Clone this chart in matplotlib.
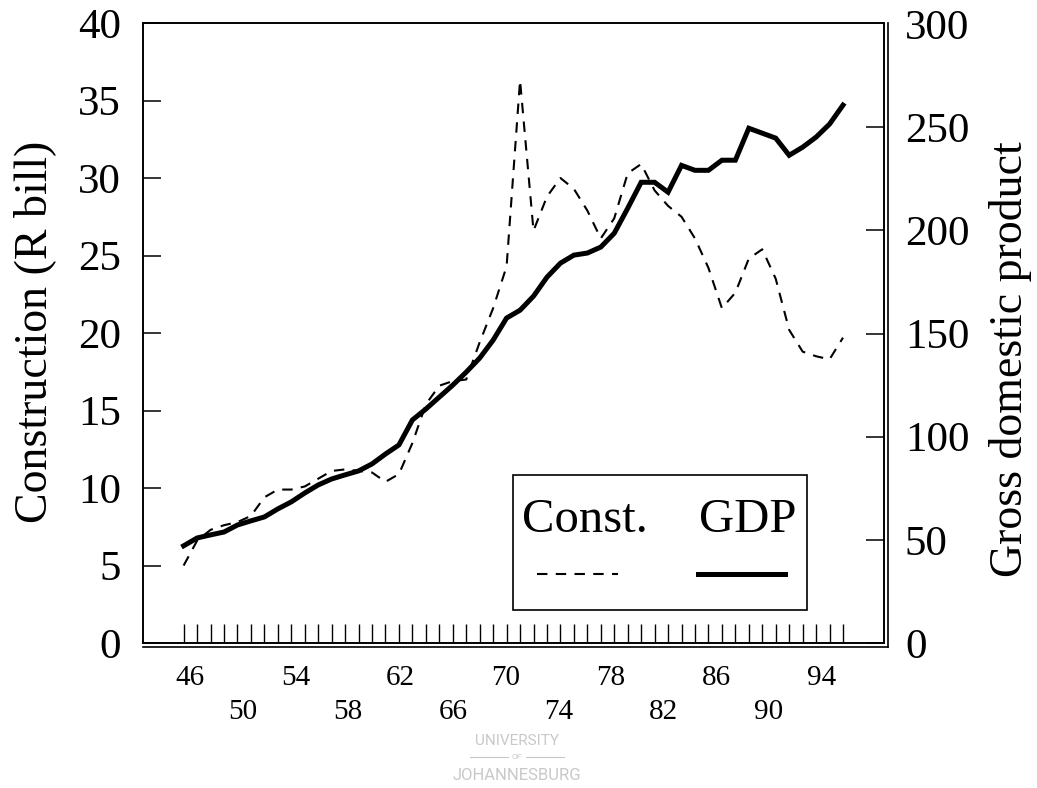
import matplotlib
matplotlib.use("Agg")
import matplotlib.pyplot as plt
import matplotlib.transforms as mtransforms
from matplotlib.patches import Rectangle
from matplotlib.lines import Line2D

plt.rcParams['font.family'] = ['Liberation Serif', 'DejaVu Serif']

# Years 1946-1995
years = list(range(1946, 1996))

# Construction (R bill), left axis
construction = [5.0, 6.6, 7.3, 7.6, 7.8, 8.2, 9.4, 9.9, 9.9, 10.1,
                10.6, 11.1, 11.2, 11.1, 11.0, 10.4, 10.9, 12.9, 15.4, 16.6,
                16.9, 17.0, 19.4, 21.6, 24.3, 36.3, 26.6, 28.8, 30.0, 29.3,
                27.9, 26.1, 27.4, 30.3, 30.9, 29.2, 28.2, 27.5, 26.1, 24.2,
                21.6, 22.6, 24.8, 25.4, 23.5, 20.2, 18.8, 18.5, 18.3, 19.7]

# Gross domestic product, right axis
gdp = [47.1, 50.9, 52.4, 53.8, 57.2, 59.2, 61.1, 65.0, 68.4, 72.7,
       76.6, 79.5, 81.5, 83.4, 86.8, 91.6, 96.0, 108.1, 113.4, 119.2,
       125.0, 131.3, 138.1, 146.8, 157.5, 161.3, 168.1, 177.3, 184.1, 188.0,
       189.0, 191.9, 198.6, 210.7, 223.3, 223.3, 218.5, 231.5, 229.1, 229.1,
       234.0, 234.0, 249.5, 247.1, 244.7, 236.4, 240.3, 245.2, 251.5, 260.7]

left_ticks = [0, 5, 10, 15, 20, 25, 30, 35, 40]
right_ticks = [0, 50, 100, 150, 200, 250, 300]
upper_labels = [1946, 1954, 1962, 1970, 1978, 1986, 1994]
lower_labels = [1950, 1958, 1966, 1974, 1982, 1990]

fig = plt.figure(figsize=(10.37, 7.88), dpi=100)
ax = fig.add_axes([0.1379, 0.184, 0.7146, 0.7868])
ax2 = ax.twinx()

ax.plot(years, construction, color='black', linewidth=1.5, linestyle=(0, (5, 4)))
ax2.plot(years, gdp, color='black', linewidth=3.6, solid_joinstyle='miter')

ax.set_xlim(1942.98, 1998.05)
ax.set_ylim(0, 40)
ax2.set_ylim(0, 300.5)

ax.set_yticks(left_ticks)
ax2.set_yticks(right_ticks)
ax.set_xticks(years)
ax.set_xticklabels([])

ax.tick_params(axis='y', direction='in', length=13, width=1.1, labelsize=31, pad=16)
ax2.tick_params(axis='y', direction='in', length=13, width=1.1, labelsize=31, pad=15)
ax.tick_params(axis='x', direction='in', length=14, width=1.0, bottom=True, top=False)
# no visible mark for the 300 tick, it sits on the top edge
ax2.yaxis.get_major_ticks()[-1].tick2line.set_visible(False)

for a in (ax, ax2):
    for s in a.spines.values():
        s.set_linewidth(1.2)

# double line on bottom and right edges
ax.plot([0, 1.006], [-0.006, -0.006], transform=ax.transAxes, color='black',
        linewidth=1.2, clip_on=False)
ax.plot([1.006, 1.006], [-0.006, 1.0], transform=ax.transAxes, color='black',
        linewidth=1.2, clip_on=False)

# staggered year labels (printed slightly compressed relative to the ticks)
trans = mtransforms.blended_transform_factory(ax.transData, ax.transAxes)
for y in upper_labels:
    ax.text(1946.5 + (y - 1946) * 0.977, -0.0565, str(y)[2:], transform=trans,
            ha='center', va='center', fontsize=21)
for y in lower_labels:
    ax.text(1946.5 + (y - 1946) * 0.977, -0.111, str(y)[2:], transform=trans,
            ha='center', va='center', fontsize=21)

fig.text(35 / 1037, 1 - 332 / 788, 'Construction (R bill)', rotation=90,
         ha='center', va='center', fontsize=33)
fig.text(1010 / 1037, 1 - 359 / 788, 'Gross domestic product', rotation=90,
         ha='center', va='center', fontsize=33)

# legend box: labels above line samples
ax.add_patch(Rectangle((0.499, 0.053), 0.397, 0.218, transform=ax.transAxes,
                       facecolor='white', edgecolor='black', linewidth=1.2, zorder=5))
ax.text(0.512, 0.198, 'Const.', transform=ax.transAxes, ha='left', va='center',
        fontsize=35, zorder=6)
ax.text(0.816, 0.198, 'GDP', transform=ax.transAxes, ha='center', va='center',
        fontsize=35, zorder=6)
ax.add_line(Line2D([0.532, 0.641], [0.111, 0.111], transform=ax.transAxes,
                   color='black', linewidth=1.5, linestyle=(0, (5, 4)), zorder=6))
ax.add_line(Line2D([0.749, 0.866], [0.111, 0.111], transform=ax.transAxes,
                   color='black', linewidth=3.6, zorder=6))

# faint watermark
wm = '#c8c8c8'
fig.text(517 / 1037, 1 - 741 / 788, 'UNIVERSITY', ha='center', va='center',
         fontsize=11, color=wm, family='Roboto')
fig.text(517 / 1037, 1 - 757 / 788, 'OF', ha='center', va='center',
         fontsize=6, color=wm, family='Roboto')
fig.add_artist(Line2D([470 / 1037, 508 / 1037], [1 - 757 / 788] * 2, color=wm, linewidth=0.8))
fig.add_artist(Line2D([526 / 1037, 564 / 1037], [1 - 757 / 788] * 2, color=wm, linewidth=0.8))
fig.text(517 / 1037, 1 - 775 / 788, 'JOHANNESBURG', ha='center', va='center',
         fontsize=12, color=wm, family='Roboto')

fig.savefig('out.png', dpi=100)
